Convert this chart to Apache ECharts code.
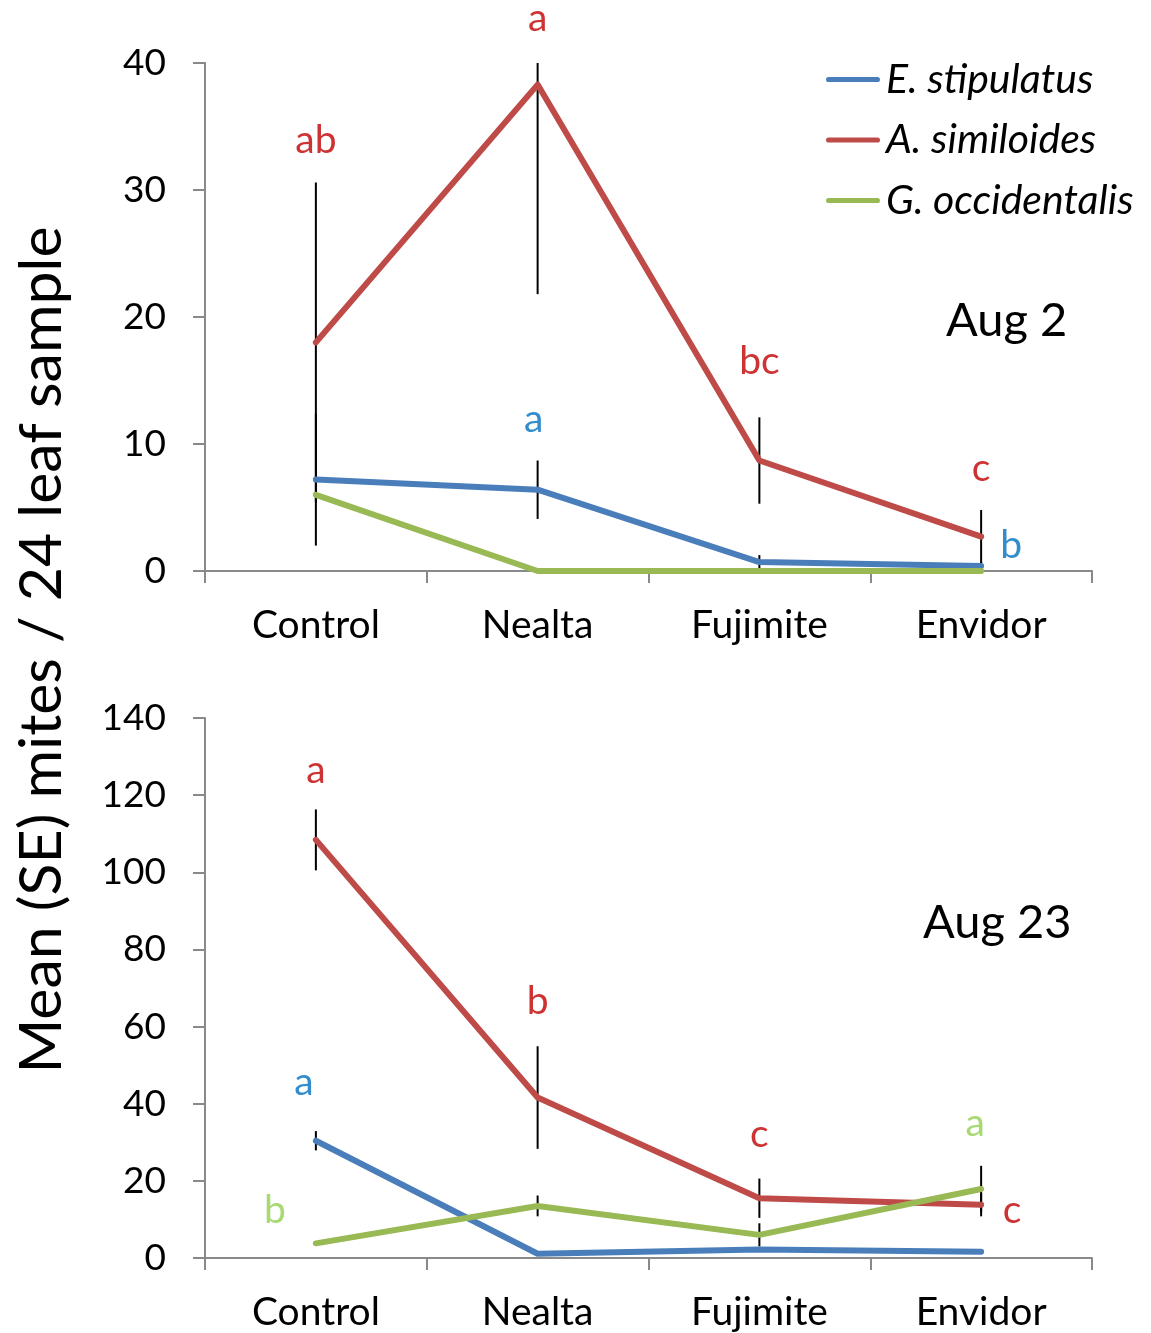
<!DOCTYPE html>
<html><head><meta charset="utf-8">
<script src="https://cdn.jsdelivr.net/npm/echarts@6/dist/echarts.min.js"></script>
<style>html,body{margin:0;padding:0;background:#fff}#c{width:1151px;height:1333px}</style>
</head><body><div id="c"></div>
<script>
// ---- data ----
var categories = ['Control', 'Nealta', 'Fujimite', 'Envidor'];
var seriesNames = ['E. stipulatus', 'A. similoides', 'G. occidentalis'];
// Aug 2 means and SE
var aug2_Estip = [7.2, 6.4, 0.7, 0.4];
var aug2_Asim = [18.0, 38.3, 8.7, 2.7];
var aug2_Gocc = [6.0, 0, 0, 0];
var aug2_Estip_se = [5.2, 2.3, 0.55, 0.3];
var aug2_Asim_se = [12.6, 16.5, 3.4, 2.1];
var aug2_Gocc_se = [0, 0, 0, 0];
// Aug 23 means and SE
var aug23_Estip = [30.4, 1.1, 2.2, 1.6];
var aug23_Asim = [108.4, 41.6, 15.5, 13.8];
var aug23_Gocc = [3.8, 13.5, 6.0, 17.9];
var aug23_Estip_se = [2.5, 0, 0, 0];
var aug23_Asim_se = [7.9, 13.3, 5.1, 3.0];
var aug23_Gocc_se = [0, 2.7, 3.0, 6.0];
// y tick settings
var aug2_yMax = 40, aug2_yStep = 10;
var aug23_yMax = 140, aug23_yStep = 20;
// significance letters: [category index, y value, letter, species index]
var aug2_letters = [
  [0, 33.9, 'ab', 1], [1, 43.5, 'a', 1], [1, 11.9, 'a', 0],
  [2, 16.5, 'bc', 1], [3, 8.1, 'c', 1], [3, 2.0, 'b', 0]
];
var aug23_letters = [
  [0, 126.5, 'a', 1], [1, 66.4, 'b', 1], [0, 45.4, 'a', 0],
  [0, 12.4, 'b', 2], [2, 32.1, 'c', 1], [3, 35.0, 'a', 2], [3, 12.4, 'c', 1]
];
var panelTitles = ['Aug 2', 'Aug 23'];
var yAxisTitle = 'Mean (SE) mites / 24 leaf sample';

// ---- styles ----
var lineColors = ['#4A7EBB', '#BE4B48', '#98B954'];
var letterColors = ['#0070C0', '#C00000', '#92D050'];
var FONT = 'Lato, "Open Sans", sans-serif';

function errData(means, ses) {
  return means.map(function (m, i) { return [i, m, ses[i]]; });
}
function renderErr(params, api) {
  var x = api.value(0), m = api.value(1), s = api.value(2);
  if (!s) return null;
  var hi = api.coord([x, m + s]), lo = api.coord([x, Math.max(0, m - s)]);
  var cs = params.coordSys;
  var top = Math.max(hi[1], cs.y), bot = Math.min(lo[1], cs.y + cs.height);
  return { type: 'line', shape: { x1: hi[0], y1: top, x2: lo[0], y2: bot },
    style: { stroke: '#000', lineWidth: 2 } };
}
function letterSeries(list, gi) {
  return {
    type: 'scatter', xAxisIndex: gi, yAxisIndex: gi, symbolSize: 0, silent: true,
    clip: false, z: 10,
    data: list.map(function (l) {
      var dx = 0;
      if (gi === 0 && l[0] === 3 && l[2] === 'b') dx = 30;
      if (gi === 1 && l[0] === 0 && l[3] === 0) dx = -12;
      if (gi === 1 && l[0] === 0 && l[3] === 2) dx = -41;
      if (gi === 1 && l[0] === 3 && l[3] === 1) dx = 31;
      if (gi === 1 && l[0] === 3 && l[3] === 2) dx = -6;
      if (gi === 0 && l[0] === 1 && l[3] === 0) dx = -4;
      return { value: [l[0], l[1]], label: { show: true, position: 'inside',
        formatter: l[2], color: letterColors[l[3]], offset: [dx, 0],
        fontSize: 39, fontFamily: FONT } };
    })
  };
}

var grids = [
  { left: 205, right: 59, top: 63, height: 508 },
  { left: 205, right: 59, top: 718, height: 540 }
];
var xAxes = [0, 1].map(function (i) {
  return { type: 'category', gridIndex: i, data: categories, boundaryGap: true,
    axisLine: { lineStyle: { color: '#898989', width: 2 } },
    axisTick: { show: true, length: 12, lineStyle: { color: '#898989', width: 2 } },
    axisLabel: { color: '#000', fontSize: 39, fontFamily: FONT, margin: 35 } };
});
var yAxes = [[aug2_yMax, aug2_yStep], [aug23_yMax, aug23_yStep]].map(function (a, i) {
  return { type: 'value', gridIndex: i, min: 0, max: a[0], interval: a[1],
    axisLine: { show: true, lineStyle: { color: '#898989', width: 2 } },
    axisTick: { show: true, length: 12, lineStyle: { color: '#898989', width: 2 } },
    splitLine: { show: false },
    axisLabel: { color: '#000', fontSize: 37, fontFamily: FONT, margin: 39 } };
});

function lineSeries(name, data, ci, gi) {
  return { type: 'line', name: name, data: data, xAxisIndex: gi, yAxisIndex: gi,
    symbol: 'none', z: 5, lineStyle: { color: lineColors[ci], width: 6, cap: 'round', join: 'round' },
    itemStyle: { color: lineColors[ci] } };
}
function errSeries(means, ses, gi) {
  return { type: 'custom', xAxisIndex: gi, yAxisIndex: gi, z: 3, silent: true,
    renderItem: renderErr, data: errData(means, ses) };
}

var series = [
  lineSeries(seriesNames[0], aug2_Estip, 0, 0),
  lineSeries(seriesNames[1], aug2_Asim, 1, 0),
  lineSeries(seriesNames[2], aug2_Gocc, 2, 0),
  lineSeries(seriesNames[0], aug23_Estip, 0, 1),
  lineSeries(seriesNames[1], aug23_Asim, 1, 1),
  lineSeries(seriesNames[2], aug23_Gocc, 2, 1),
  errSeries(aug2_Estip, aug2_Estip_se, 0),
  errSeries(aug2_Asim, aug2_Asim_se, 0),
  errSeries(aug2_Gocc, aug2_Gocc_se, 0),
  errSeries(aug23_Estip, aug23_Estip_se, 1),
  errSeries(aug23_Asim, aug23_Asim_se, 1),
  errSeries(aug23_Gocc, aug23_Gocc_se, 1),
  letterSeries(aug2_letters, 0),
  letterSeries(aug23_letters, 1)
];

var chart = echarts.init(document.getElementById('c'), null, { renderer: 'canvas' });
chart.setOption({
  animation: false,
  backgroundColor: '#fff',
  grid: grids,
  xAxis: xAxes,
  yAxis: yAxes,
  legend: {
    data: seriesNames, orient: 'vertical', left: 826, top: 59, padding: 0,
    itemWidth: 54, itemHeight: 34, itemGap: 19.5,
    icon: 'path://M3,14.5 L51,14.5 A2.5,2.5 0 0 1 51,19.5 L3,19.5 A2.5,2.5 0 0 1 3,14.5 Z',
    textStyle: { fontSize: 41, lineHeight: 34, fontStyle: 'italic', fontFamily: FONT, color: '#000', padding: [0, 0, 0, 1] },
    selectedMode: false
  },
  graphic: [
    { type: 'text', left: 946, top: 297, style: { text: panelTitles[0], fontSize: 47, fontFamily: FONT, fill: '#000' } },
    { type: 'text', left: 923, top: 899, style: { text: panelTitles[1], fontSize: 47, fontFamily: FONT, fill: '#000' } },
    { type: 'text', x: 42, y: 650, rotation: Math.PI / 2,
      style: { text: yAxisTitle, fontSize: 59, fontFamily: FONT, fill: '#000', align: 'center', verticalAlign: 'middle' } }
  ],
  series: series
});
</script>
</body></html>
